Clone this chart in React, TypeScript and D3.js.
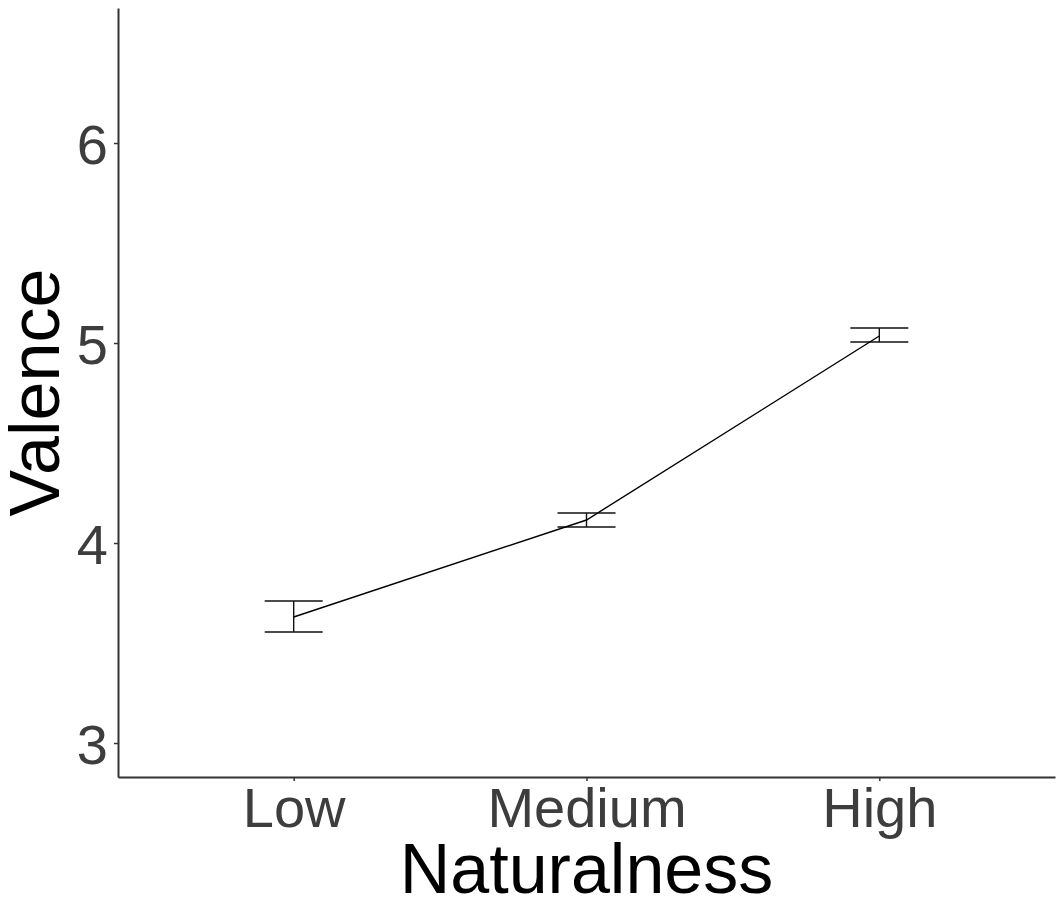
import { useEffect, useRef } from 'react';
import * as d3 from 'd3';

const categories = ['Low', 'Medium', 'High'];
const means = [3.63, 4.115, 5.035];
const lower = [3.555, 4.08, 5.005];
const upper = [3.71, 4.15, 5.075];
const yTicks = [3, 4, 5, 6];

const W = 1063;
const H = 917;
const FONT = '"Liberation Sans", Arial, sans-serif';

export default function App() {
  const svgRef = useRef<SVGSVGElement>(null);

  useEffect(() => {
    if (!svgRef.current) return;
    const svg = d3.select(svgRef.current);
    svg.selectAll('*').remove();

    const left = 118;
    const right = 1055;
    const top = 8;
    const bottom = 777;

    const x = d3.scalePoint<string>()
      .domain(categories)
      .range([left, right])
      .padding(0.6);

    const y = d3.scaleLinear()
      .domain([2.83, 6.675])
      .range([bottom, top]);

    const rows = categories.map((c, i) => ({ cat: c, mean: means[i], lo: lower[i], hi: upper[i] }));

    // Axes
    const yAxis = svg.append('g')
      .attr('transform', `translate(${left},0)`)
      .call(d3.axisLeft(y).tickValues(yTicks).tickFormat(d3.format('d')).tickSize(4).tickPadding(6).tickSizeOuter(0));
    yAxis.select('.domain').attr('stroke', '#333').attr('stroke-width', 2);
    yAxis.selectAll('.tick line').attr('stroke', '#333').attr('stroke-width', 1.5);
    yAxis.selectAll('.tick text')
      .attr('fill', '#3D3D3D')
      .attr('font-size', 56)
      .attr('font-family', FONT)
      .attr('dy', '0.36em');

    const xAxis = svg.append('g')
      .attr('transform', `translate(0,${bottom})`)
      .call(d3.axisBottom(x).tickSize(4).tickPadding(6).tickSizeOuter(0));
    xAxis.select('.domain').attr('stroke', '#333').attr('stroke-width', 2);
    xAxis.selectAll('.tick line').attr('stroke', '#333').attr('stroke-width', 1.5);
    xAxis.selectAll('.tick text')
      .attr('fill', '#3D3D3D')
      .attr('font-size', 56)
      .attr('font-family', FONT)
      .attr('dy', null)
      .attr('y', 50);

    // Error bars
    const half = 29;
    const eb = svg.append('g').attr('stroke', '#111').attr('stroke-width', 1.4).attr('fill', 'none');
    rows.forEach(r => {
      const cx = x(r.cat)!;
      eb.append('line').attr('x1', cx).attr('x2', cx).attr('y1', y(r.lo)).attr('y2', y(r.hi));
      eb.append('line').attr('x1', cx - half).attr('x2', cx + half).attr('y1', y(r.lo)).attr('y2', y(r.lo));
      eb.append('line').attr('x1', cx - half).attr('x2', cx + half).attr('y1', y(r.hi)).attr('y2', y(r.hi));
    });

    // Mean line
    const line = d3.line<typeof rows[number]>()
      .x(d => x(d.cat)!)
      .y(d => y(d.mean));
    svg.append('path')
      .datum(rows)
      .attr('fill', 'none')
      .attr('stroke', '#000')
      .attr('stroke-width', 1.4)
      .attr('d', line);

    // Axis titles
    svg.append('text')
      .attr('x', (left + right) / 2)
      .attr('y', 893)
      .attr('text-anchor', 'middle')
      .attr('font-size', 70)
      .attr('font-family', FONT)
      .attr('fill', '#000')
      .text('Naturalness');

    svg.append('text')
      .attr('transform', `translate(59,${(top + bottom) / 2}) rotate(-90)`)
      .attr('text-anchor', 'middle')
      .attr('font-size', 70)
      .attr('font-family', FONT)
      .attr('fill', '#000')
      .text('Valence');
  }, []);

  return (
    <svg
      ref={svgRef}
      width={W}
      height={H}
      style={{ position: 'absolute', left: 0, top: 0, background: '#fff' }}
    />
  );
}
